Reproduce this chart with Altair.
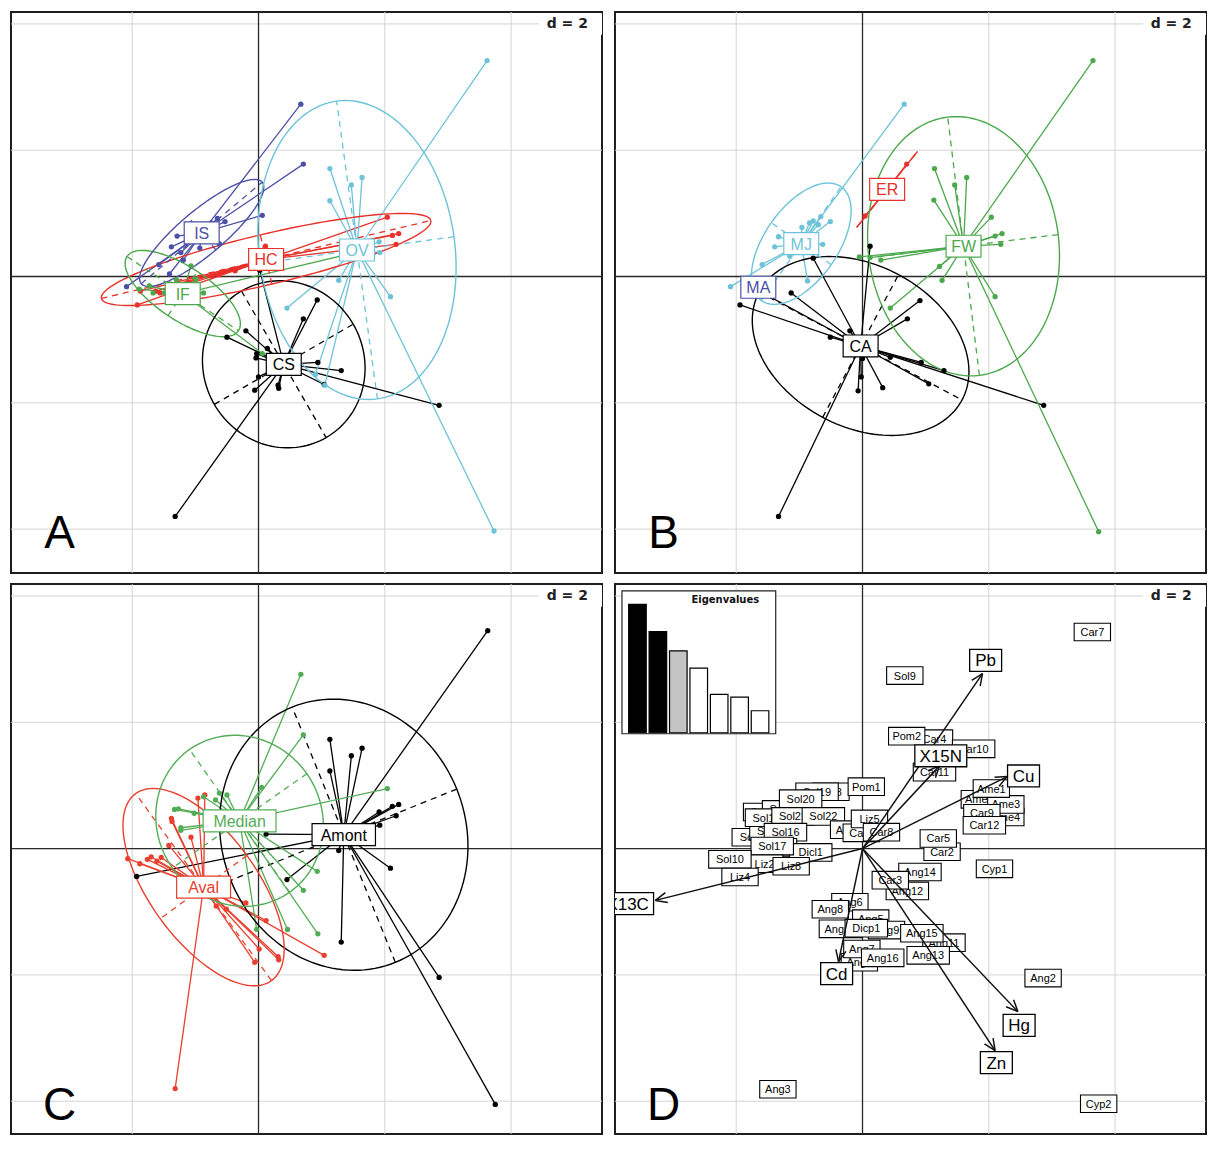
import math
import altair as alt
import numpy as np
import pandas as pd

# ---------------------------------------------------------------- data
# ---- Panel A (groups: CS, HC, IF, IS, OV)
CS_X = [0.93, 0.71, -0.20, -0.50, 0.14, -0.04, 0.00, -0.06, 0.32, 0.31, 0.94, 1.31, 1.04, 2.86, -1.32, 0.02, -0.03]
CS_Y = [-0.37, -0.67, -0.86, -0.96, -1.14, -1.29, -1.59, -1.80, -1.77, -1.72, -1.36, -1.49, -1.71, -2.04, -3.80, 0.10, -1.22]
HC_X = [2.04, 2.12, 2.22, 2.18, 0.11, -1.87, -1.92, -1.63, -1.56, -0.74, -0.62, -0.37, -1.11, -1.40]
HC_Y = [0.94, 0.65, 0.68, 0.51, 0.48, -0.23, -0.45, -0.23, -0.26, 0.00, 0.03, 0.09, -0.09, -0.15]
IF_X = [-1.73, -1.67, -1.49, -1.07, -0.87, -0.99, 0.06, -1.89, -1.30, 1.45]
IF_Y = [-0.15, -0.26, -0.26, 0.17, -0.26, -0.04, -1.22, -0.20, -0.05, 0.36]
IS_X = [0.67, 0.71, 0.06, -0.65, -0.53, -1.29, -1.38, -1.23, -1.58, -1.41, -2.09, -0.93, -0.62, -1.19, -0.75]
IS_Y = [2.73, 1.78, 0.97, 0.92, 0.87, 0.64, 0.47, 0.38, 0.19, 0.04, -0.16, 0.45, 0.52, 0.26, 0.85]
OV_X = [3.62, 3.73, 1.13, 1.47, 1.64, 1.13, 0.45, 1.27, 2.09, 1.92, 1.91, 1.05, 0.90]
OV_Y = [3.42, -4.03, 1.71, 1.45, 1.57, 1.20, -0.50, -0.06, -0.32, 0.38, 0.55, -1.72, -1.55]

A_LABELS = ["CS", "HC", "IF", "IS", "OV"]
A_CX = [0.40, 0.12, -1.20, -0.90, 1.56]
A_CY = [-1.39, 0.27, -0.27, 0.69, 0.42]
A_ELL_A = [1.34, 2.68, 1.06, 1.25, 2.38]
A_ELL_B = [1.27, 0.40, 0.42, 0.35, 1.55]
A_ELL_DEG = [-60, 13.3, -33.6, 40, 97.8]
A_PX = [CS_X, HC_X, IF_X, IS_X, OV_X]
A_PY = [CS_Y, HC_Y, IF_Y, IS_Y, OV_Y]

# ---- Panel B (groups: CA, ER, FW, MA, MJ)
CA_X = [-1.94, -1.13, 0.91, 0.71, 0.12, -0.51, -0.20, -0.02, -0.07, 0.32, 1.05, 1.29, 0.93, 2.87, -1.33, -0.78, 0.44, -1.60, 0.00]
CA_Y = [-0.45, -0.26, -0.38, -0.67, 0.48, -0.96, -0.86, -1.59, -1.81, -1.76, -1.70, -1.49, -1.36, -2.04, -3.80, 0.29, -1.28, -0.25, -1.30]
ER_X = [0.70, 0.04]
ER_Y = [1.78, 0.96]
FW_X = [3.65, 3.74, 1.14, 1.46, 1.65, 1.13, 2.04, 2.21, 2.10, 2.19, 1.22, 1.26, 2.10, 0.44, -0.05, 0.29, 0.12]
FW_Y = [3.42, -4.04, 1.71, 1.45, 1.57, 1.21, 0.94, 0.68, 0.64, 0.51, 0.16, -0.06, -0.32, -0.50, 0.31, 0.26, 0.30]
MA_X = []
MA_Y = []
MJ_X = [0.66, -0.66, -0.51, -0.84, -0.96, -1.33, -1.39, -0.63, -1.59, -2.09, -0.87, -1.15, -0.78, -0.70]
MJ_Y = [2.73, 0.95, 0.87, 0.85, 0.78, 0.63, 0.47, 0.51, 0.19, -0.16, -0.07, 0.32, 0.88, 0.82]

B_LABELS = ["CA", "ER", "FW", "MA", "MJ"]
B_CX = [-0.03, 0.39, 1.60, -1.65, -0.97]
B_CY = [-1.10, 1.38, 0.48, -0.17, 0.52]
B_ELL_A = [1.82, 0.77, 2.06, 0.0, 1.10]
B_ELL_B = [1.28, 0.0, 1.51, 0.0, 0.58]
B_ELL_DEG = [-28, 51.3, 97, 0, 55]
B_PX = [CA_X, ER_X, FW_X, MA_X, MJ_X]
B_PY = [CA_Y, ER_Y, FW_Y, MA_Y, MJ_Y]

# ---- Panel C (groups: Amont, Aval, Median)
AMONT_X = [3.63, 3.75, 2.86, 1.13, 1.47, 1.64, 1.13, 2.12, 2.22, 2.18, 1.91, 1.92, 1.27, 2.09, 0.45, 1.31, -1.93, 0.12, 1.18]
AMONT_Y = [3.45, -4.05, -2.04, 1.73, 1.47, 1.59, 1.23, 0.67, 0.70, 0.52, 0.58, 0.37, -0.03, -0.31, -0.49, -1.48, -0.44, 0.23, 0.15]
AVAL_X = [-1.32, -1.38, -1.37, -1.07, -0.85, -0.96, -2.07, -1.88, -1.76, -1.70, -1.61, -1.54, -1.42, -0.20, 0.12, 0.01, -0.06, 0.32, 0.31, 1.04, -0.51, -0.67]
AVAL_Y = [-3.80, 0.48, 0.43, 0.18, 0.85, 0.80, -0.16, -0.24, -0.17, -0.13, -0.20, -0.14, 0.05, -0.86, -1.14, -1.59, -1.80, -1.76, -1.71, -1.69, -0.96, -0.91]
MEDIAN_X = [0.67, 0.71, 0.05, -0.62, -0.50, -1.27, -1.33, -1.02, -1.23, -1.23, 2.04, 0.93, 0.71, 0.94, 0.46, -0.03, -0.87, -0.68]
MEDIAN_Y = [2.76, 1.80, 0.97, 0.88, 0.85, 0.63, 0.62, 0.56, 0.33, 0.29, 0.95, -0.36, -0.66, -1.35, -1.28, -1.28, 0.82, 0.77]

C_LABELS = ["Amont", "Aval", "Median"]
C_CX = [1.35, -0.87, -0.30]
C_CY = [0.22, -0.61, 0.44]
C_ELL_A = [2.18, 1.83, 1.38]
C_ELL_B = [1.93, 0.85, 1.30]
C_ELL_DEG = [112, 126, 125]
C_PX = [AMONT_X, AVAL_X, MEDIAN_X]
C_PY = [AMONT_Y, AVAL_Y, MEDIAN_Y]

# ---- Panel D: individuals (draw order) and variables
D_SAMPLES = ["Sol11", "Sol13", "Sol14", "Sol12", "Sol8", "Sol19", "Sol20", "Sol15", "Sol21", "Sol22",
             "Pom1", "Ang4", "Car6", "Liz5", "Car8", "Sol16", "Liz1", "Dicl1", "Sol17", "Liz2",
             "Sol10", "Liz8", "Liz4", "Car4", "Car10", "Pom2", "Car11", "Sol9", "Car7", "Ame2",
             "Ame4", "Ame3", "Ame1", "Car9", "Car12", "Car2", "Car5", "Cyp1", "Ang14", "Ang12",
             "Car3", "Ang6", "Ang8", "Ang5", "Ang10", "Ang9", "Dicp1", "Ang11", "Ang15", "Ang13",
             "Ang1", "Ang7", "Ang16", "Ang2", "Ang3", "Cyp2"]
D_SX = [-1.73, -1.55, -1.25, -1.45, -0.50, -0.72, -0.98, -1.52, -1.10, -0.62,
        0.06, -0.22, -0.02, 0.11, 0.30, -1.22, -1.33, -0.82, -1.43, -1.55,
        -2.10, -1.13, -1.94, 1.14, 1.76, 0.70, 1.14, 0.67, 3.64, 1.85,
        2.27, 2.27, 2.04, 1.89, 1.93, 1.26, 1.20, 2.09, 0.91, 0.71,
        0.44, -0.20, -0.51, 0.13, -0.35, 0.38, 0.06, 1.29, 0.94, 1.04,
        -0.05, -0.01, 0.32, 2.86, -1.34, 3.74]
D_SY = [0.18, 0.58, 0.62, 0.28, 0.90, 0.90, 0.79, 0.49, 0.51, 0.51,
        0.98, 0.30, 0.25, 0.47, 0.26, 0.26, 0.02, -0.06, 0.04, -0.24,
        -0.17, -0.28, -0.45, 1.74, 1.58, 1.78, 1.21, 2.74, 3.43, 0.78,
        0.50, 0.70, 0.95, 0.56, 0.37, -0.05, 0.16, -0.32, -0.37, -0.67,
        -0.50, -0.85, -0.96, -1.11, -1.27, -1.29, -1.26, -1.49, -1.34, -1.69,
        -1.80, -1.59, -1.73, -2.05, -3.81, -4.04]

D_VARS = ["Pb", "X15N", "Cu", "X13C", "Cd", "Hg", "Zn"]
D_TIP_X = [1.90, 1.22, 2.29, -3.28, -0.38, 2.46, 2.10]
D_TIP_Y = [2.77, 1.31, 1.14, -0.82, -1.79, -2.58, -3.20]
D_LAB_X = [1.95, 1.24, 2.55, -3.72, -0.41, 2.48, 2.12]
D_LAB_Y = [2.98, 1.47, 1.15, -0.87, -1.98, -2.80, -3.39]

EIG_VALUES = [3.86, 3.04, 2.46, 1.94, 1.15, 1.07, 0.66]
EIG_FILL = ["#000000", "#000000", "#c4c4c4", "#ffffff", "#ffffff", "#ffffff", "#ffffff"]

GRID_VALUES = [-4, -2, 2, 4]

# ---------------------------------------------------------------- style
FONT = "Liberation Sans"
UNIT = 63.25
X_DOMAIN = [-3.92, 5.44]
Y_DOMAIN_TOP = [-4.695, 4.19]
Y_DOMAIN_BOT = [-4.52, 4.19]
PANEL_W = 592
H_TOP = 562
H_BOT = 551
GRID_COLOR = "#d4d4d4"
AXIS_COLOR = "#2a2a2a"
BLACK = "#000000"
BLUE = "#4b50a6"
RED = "#e8312a"
GREEN = "#4ca84c"
CYAN = "#6cc3d9"
A_COLORS = [BLACK, RED, GREEN, BLUE, CYAN]
B_COLORS = [BLACK, RED, GREEN, BLUE, CYAN]
C_COLORS = [BLACK, "#e8402f", "#53ac56"]


def ex(f):
    return alt.X(f, type="quantitative", scale=alt.Scale(domain=X_DOMAIN, nice=False, zero=False), axis=None)


def ey(f, ydom):
    return alt.Y(f, type="quantitative", scale=alt.Scale(domain=ydom, nice=False, zero=False), axis=None)


def frame_layers(ydom):
    L = []
    g = pd.DataFrame({"v": GRID_VALUES})
    g["ylo"], g["yhi"], g["xlo"], g["xhi"] = ydom[0], ydom[1], X_DOMAIN[0], X_DOMAIN[1]
    L.append(alt.Chart(g).mark_rule(color=GRID_COLOR, strokeWidth=1, clip=True).encode(
        x=ex("v"), y=ey("ylo", ydom), y2="yhi"))
    L.append(alt.Chart(g).mark_rule(color=GRID_COLOR, strokeWidth=1, clip=True).encode(
        y=ey("v", ydom), x=ex("xlo"), x2="xhi"))
    z = pd.DataFrame({"v": [0]})
    z["ylo"], z["yhi"], z["xlo"], z["xhi"] = ydom[0], ydom[1], X_DOMAIN[0], X_DOMAIN[1]
    L.append(alt.Chart(z).mark_rule(color=AXIS_COLOR, strokeWidth=1.3, clip=True).encode(
        x=ex("v"), y=ey("ylo", ydom), y2="yhi"))
    L.append(alt.Chart(z).mark_rule(color=AXIS_COLOR, strokeWidth=1.3, clip=True).encode(
        y=ey("v", ydom), x=ex("xlo"), x2="xhi"))
    d = pd.DataFrame({"xa": [4.44], "xb": [X_DOMAIN[1]], "ya": [3.83], "yb": [4.17],
                      "tx": [4.89], "ty": [4.0], "t": ["d = 2"]})
    L.append(alt.Chart(d).mark_rect(fill="white", strokeWidth=0, clip=True).encode(
        x=ex("xa"), x2="xb", y=ey("ya", ydom), y2="yb"))
    L.append(alt.Chart(d).mark_text(font="DejaVu Sans", fontSize=14, fontWeight="bold", color="#222",
                                    align="center", baseline="middle", clip=True).encode(
        x=ex("tx"), y=ey("ty", ydom), text="t:N"))
    return L


def letter_layer(ydom, letter):
    d = pd.DataFrame({"x": [-3.15], "y": [-4.30], "t": [letter]})
    return alt.Chart(d).mark_text(font=FONT, fontSize=46, color="black", align="center",
                                  baseline="alphabetic", clip=True).encode(
        x=ex("x"), y=ey("y", ydom), text="t:N")


def label_layers(names, xs, ys, colors, ydom, fsize, char_w, pad, half_h, interleave, sw=1.2):
    rows = []
    for n, x, y, c in zip(names, xs, ys, colors):
        hw = (len(n) * char_w + pad) / 2 / UNIT
        hh = half_h / UNIT
        rows.append(dict(name=n, x=x, y=y, xa=x - hw, xb=x + hw, ya=y - hh, yb=y + hh, col=c))
    df = pd.DataFrame(rows)

    def rect(d):
        return alt.Chart(d).mark_rect(fill="white", strokeWidth=sw, clip=True).encode(
            x=ex("xa"), x2="xb", y=ey("ya", ydom), y2="yb",
            stroke=alt.Stroke("col:N", scale=None))

    def text(d):
        return alt.Chart(d).mark_text(font=FONT, fontSize=fsize, align="center",
                                      baseline="middle", dy=1, clip=True).encode(
            x=ex("x"), y=ey("y", ydom), text="name:N",
            color=alt.Color("col:N", scale=None))

    if interleave:
        out = []
        for i in range(len(df)):
            d = df.iloc[[i]]
            out += [rect(d), text(d)]
        return out
    return [rect(df), text(df)]


def class_panel(labels, cxs, cys, ea, eb, edeg, colors, pxs, pys, letter, ydom, height):
    stars, ells, pts = [], [], []
    for lab, cx, cy, a, b, deg, col, px, py in zip(labels, cxs, cys, ea, eb, edeg, colors, pxs, pys):
        if len(px) > 0:
            sd = pd.DataFrame({"x": [cx] * len(px), "y": [cy] * len(px), "x2": px, "y2": py})
            stars.append(alt.Chart(sd).mark_rule(color=col, strokeWidth=1.3, clip=True).encode(
                x=ex("x"), y=ey("y", ydom), x2="x2", y2="y2"))
            pts.append(alt.Chart(pd.DataFrame({"x": px, "y": py})).mark_circle(
                color=col, size=28, opacity=1, clip=True).encode(x=ex("x"), y=ey("y", ydom)))
        if a > 0:
            th = math.radians(deg)
            t = np.linspace(0, 2 * np.pi, 145)
            exs = cx + a * np.cos(t) * math.cos(th) - b * np.sin(t) * math.sin(th)
            eys = cy + a * np.cos(t) * math.sin(th) + b * np.sin(t) * math.cos(th)
            ed = pd.DataFrame({"x": exs, "y": eys, "o": np.arange(len(t))})
            ells.append(alt.Chart(ed).mark_line(color=col, strokeWidth=1.4, clip=True).encode(
                x=ex("x"), y=ey("y", ydom), order="o:Q"))
            ax_rows = [dict(x=cx - a * math.cos(th), y=cy - a * math.sin(th),
                            x2=cx + a * math.cos(th), y2=cy + a * math.sin(th))]
            if b > 0:
                ax_rows.append(dict(x=cx + b * math.sin(th), y=cy - b * math.cos(th),
                                    x2=cx - b * math.sin(th), y2=cy + b * math.cos(th)))
            ad = pd.DataFrame(ax_rows)
            ells.append(alt.Chart(ad).mark_rule(color=col, strokeWidth=1.3, strokeDash=[6, 5],
                                                clip=True).encode(
                x=ex("x"), y=ey("y", ydom), x2="x2", y2="y2"))
    labs = label_layers(labels, cxs, cys, colors, ydom, 16, 9.5, 16, 11, False)
    layers = frame_layers(ydom) + stars + ells + pts + labs + [letter_layer(ydom, letter)]
    return alt.layer(*layers).properties(width=PANEL_W, height=height)


pA = class_panel(A_LABELS, A_CX, A_CY, A_ELL_A, A_ELL_B, A_ELL_DEG, A_COLORS, A_PX, A_PY, "A",
                 Y_DOMAIN_TOP, H_TOP)
pB = class_panel(B_LABELS, B_CX, B_CY, B_ELL_A, B_ELL_B, B_ELL_DEG, B_COLORS, B_PX, B_PY, "B",
                 Y_DOMAIN_TOP, H_TOP)
pC = class_panel(C_LABELS, C_CX, C_CY, C_ELL_A, C_ELL_B, C_ELL_DEG, C_COLORS, C_PX, C_PY, "C",
                 Y_DOMAIN_BOT, H_BOT)

# ---- Panel D
yd = Y_DOMAIN_BOT
d_main = frame_layers(yd)
d_main += label_layers(D_SAMPLES, D_SX, D_SY, ["black"] * len(D_SAMPLES), yd, 11, 6.1, 12, 8.8, True, sw=1.1)
arrows = pd.DataFrame({"x": [0.0] * len(D_VARS), "y": [0.0] * len(D_VARS), "x2": D_TIP_X, "y2": D_TIP_Y})
d_main.append(alt.Chart(arrows).mark_rule(color="#111", strokeWidth=1.5, clip=True).encode(
    x=ex("x"), y=ey("y", yd), x2="x2", y2="y2"))
barbs = []
for tx, ty in zip(D_TIP_X, D_TIP_Y):
    phi = math.atan2(ty, tx)
    for s in (1, -1):
        ang = phi + s * math.radians(24)
        barbs.append(dict(x=tx, y=ty, x2=tx - 0.2 * math.cos(ang), y2=ty - 0.2 * math.sin(ang)))
d_main.append(alt.Chart(pd.DataFrame(barbs)).mark_rule(color="#111", strokeWidth=1.5, clip=True).encode(
    x=ex("x"), y=ey("y", yd), x2="x2", y2="y2"))
d_main += label_layers(D_VARS, D_LAB_X, D_LAB_Y, ["black"] * len(D_VARS), yd, 17, 10, 12, 11, True, sw=1.3)
d_main.append(letter_layer(yd, "D"))

# eigenvalue inset (own scales, placed top-left of panel D)
IX = alt.Scale(domain=[0.243, 7.767], range=[7, 161], nice=False, zero=False)
IY = alt.Scale(domain=[0, 4.26], range=[149, 7], nice=False, zero=False)
eig = pd.DataFrame({"i": np.arange(1, len(EIG_VALUES) + 1), "v": EIG_VALUES, "fill": EIG_FILL})
eig["xa"] = eig["i"] - 0.43
eig["xb"] = eig["i"] + 0.43
eig["y0"] = 0.0
box = pd.DataFrame({"xa": [0.243], "xb": [7.767], "ya": [-0.03], "yb": [4.26]})
ttl = pd.DataFrame({"x": [5.3], "y": [4.0], "t": ["Eigenvalues"]})
inset = alt.layer(
    alt.Chart(box).mark_rect(fill="white", stroke="#222", strokeWidth=1.2).encode(
        x=alt.X("xa:Q", scale=IX, axis=None), x2="xb", y=alt.Y("ya:Q", scale=IY, axis=None), y2="yb"),
    alt.Chart(eig).mark_rect(stroke="black", strokeWidth=1.2).encode(
        x=alt.X("xa:Q", scale=IX, axis=None), x2="xb", y=alt.Y("y0:Q", scale=IY, axis=None), y2="v",
        fill=alt.Fill("fill:N", scale=None)),
    alt.Chart(ttl).mark_text(font="DejaVu Sans", fontSize=10, fontWeight="bold", color="#111",
                             align="center", baseline="middle").encode(
        x=alt.X("x:Q", scale=IX, axis=None), y=alt.Y("y:Q", scale=IY, axis=None), text="t:N"),
)
pD = alt.layer(alt.layer(*d_main), inset).resolve_scale(x="independent", y="independent").properties(
    width=PANEL_W, height=H_BOT)

chart = alt.concat(pA, pB, pC, pD, columns=2, spacing={"row": 11, "column": 13}, bounds="flush").properties(
    padding={"left": 2, "top": 2, "right": 0, "bottom": 0}, background="white"
).configure_view(stroke="#1e1e1e", strokeWidth=2)

chart.save("out.html", embed_options={"renderer": "svg", "actions": False})
